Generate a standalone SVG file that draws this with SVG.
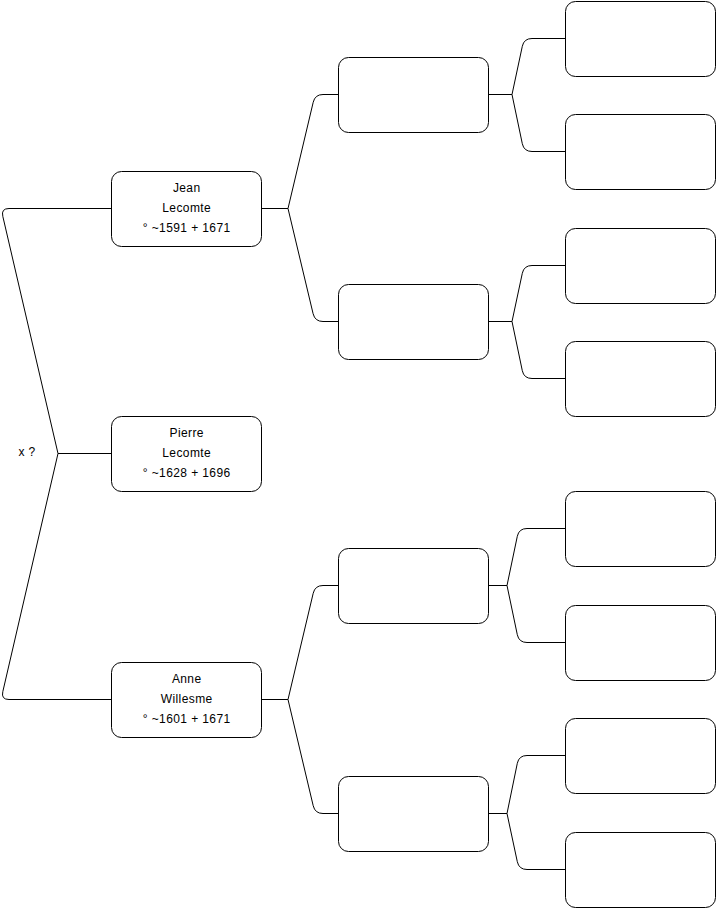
<svg xmlns="http://www.w3.org/2000/svg" width="716" height="908" viewBox="0 0 716 908">
<style>
.box{fill:#fff;stroke:#000;stroke-width:1}
.c{fill:none;stroke:#000;stroke-width:1}
text{font-family:"Liberation Sans",Arial,sans-serif;font-size:12px;fill:#000;text-anchor:middle;letter-spacing:0.4px}
</style>
<rect width="716" height="908" fill="#fff"/>
<g id="connectors">
<path class="c" d="M58,453.5 L2.8,216.3 Q1,208.5 9,208.5 H111"/>
<path class="c" d="M58,453.5 L2.8,691.7 Q1,699.5 9,699.5 H111"/>
<path class="c" d="M111,453.5 H58"/>
<path class="c" d="M262,208.5 H288 L313.2,102.3 Q315,94.5 323,94.5 H338"/>
<path class="c" d="M288,208.5 L313.1,313.7 Q315,321.5 323,321.5 H338"/>
<path class="c" d="M262,699.5 H288 L313.2,593.3 Q315,585.5 323,585.5 H338"/>
<path class="c" d="M288,699.5 L313.2,805.7 Q315,813.5 323,813.5 H338"/>
<path class="c" d="M489,94.5 H512 L522.3,46.3 Q524,38.5 532,38.5 H565"/>
<path class="c" d="M512,94.5 L522.3,143.7 Q524,151.5 532,151.5 H565"/>
<path class="c" d="M489,321.5 H512 L522.3,273.3 Q524,265.5 532,265.5 H565"/>
<path class="c" d="M512,321.5 L522.3,370.7 Q524,378.5 532,378.5 H565"/>
<path class="c" d="M489,585.5 H507 L517.3,536.3 Q519,528.5 527,528.5 H565"/>
<path class="c" d="M507,585.5 L517.3,634.7 Q519,642.5 527,642.5 H565"/>
<path class="c" d="M489,813.5 H507 L517.3,763.3 Q519,755.5 527,755.5 H565"/>
<path class="c" d="M507,813.5 L517.3,861.7 Q519,869.5 527,869.5 H565"/>
</g>
<g id="spouse-label"><text x="27" y="456">x ?</text></g>
<g id="jean"><rect class="box" x="111.5" y="171.5" width="150" height="75" rx="10"/><text x="186.7" y="192">Jean</text><text x="186.7" y="212">Lecomte</text><text x="186.7" y="232">° ~1591 + 1671</text></g>
<g id="pierre"><rect class="box" x="111.5" y="416.5" width="150" height="75" rx="10"/><text x="186.7" y="437">Pierre</text><text x="186.7" y="457">Lecomte</text><text x="186.7" y="477">° ~1628 + 1696</text></g>
<g id="anne"><rect class="box" x="111.5" y="662.5" width="150" height="75" rx="10"/><text x="186.7" y="683">Anne</text><text x="186.7" y="703">Willesme</text><text x="186.7" y="723">° ~1601 + 1671</text></g>
<g id="g2a"><rect class="box" x="338.5" y="57.5" width="150" height="75" rx="10"/></g>
<g id="g2b"><rect class="box" x="338.5" y="284.5" width="150" height="75" rx="10"/></g>
<g id="g2c"><rect class="box" x="338.5" y="548.5" width="150" height="75" rx="10"/></g>
<g id="g2d"><rect class="box" x="338.5" y="776.5" width="150" height="75" rx="10"/></g>
<g id="g3a"><rect class="box" x="565.5" y="1.5" width="150" height="75" rx="10"/></g>
<g id="g3b"><rect class="box" x="565.5" y="114.5" width="150" height="75" rx="10"/></g>
<g id="g3c"><rect class="box" x="565.5" y="228.5" width="150" height="75" rx="10"/></g>
<g id="g3d"><rect class="box" x="565.5" y="341.5" width="150" height="75" rx="10"/></g>
<g id="g3e"><rect class="box" x="565.5" y="491.5" width="150" height="75" rx="10"/></g>
<g id="g3f"><rect class="box" x="565.5" y="605.5" width="150" height="75" rx="10"/></g>
<g id="g3g"><rect class="box" x="565.5" y="718.5" width="150" height="75" rx="10"/></g>
<g id="g3h"><rect class="box" x="565.5" y="832.5" width="150" height="75" rx="10"/></g>
</svg>
